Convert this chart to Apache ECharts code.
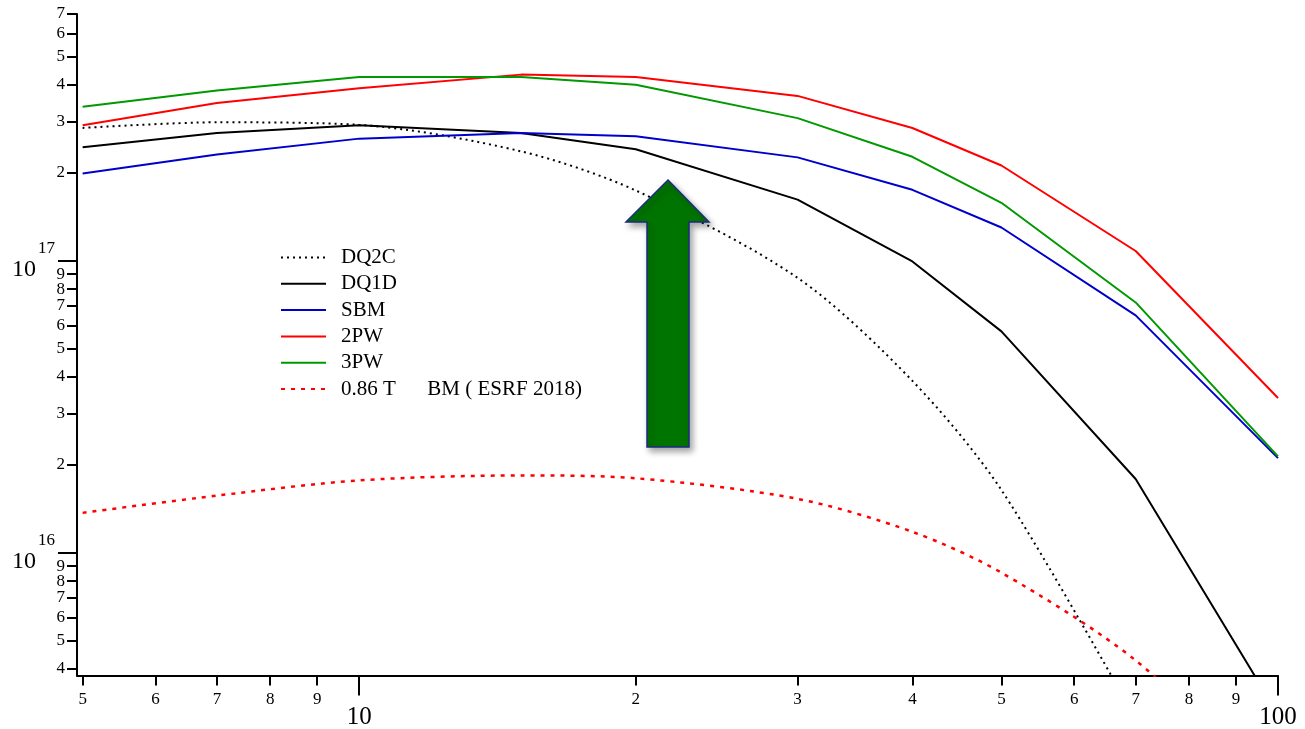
<!DOCTYPE html>
<html><head><meta charset="utf-8">
<script src="https://cdn.jsdelivr.net/npm/echarts@6/dist/echarts.min.js"></script>
<style>html,body{margin:0;padding:0;background:#fff}#c{width:1305px;height:729px}</style>
</head><body><div id="c"></div>
<script>
// ---- data (x: energy, log scale; y: flux, log scale) ----
const energies = [5, 7, 10, 15, 20, 30, 40, 50, 70, 100];
const dq2c  = [2.85e17, 2.98e17, 2.92e17, 2.37e17, 1.74e17, 8.74e16, 3.88e16, 1.64e16, 2.7e15];
const dq1d  = [2.45e17, 2.74e17, 2.91e17, 2.74e17, 2.41e17, 1.62e17, 9.95e16, 5.73e16, 1.79e16, 2.8e15];
const sbm   = [1.99e17, 2.31e17, 2.62e17, 2.74e17, 2.67e17, 2.26e17, 1.75e17, 1.30e17, 6.50e16, 2.11e16];
const pw2   = [2.91e17, 3.47e17, 3.90e17, 4.34e17, 4.26e17, 3.67e17, 2.85e17, 2.12e17, 1.08e17, 3.39e16];
const pw3   = [3.37e17, 3.83e17, 4.26e17, 4.26e17, 4.01e17, 3.08e17, 2.27e17, 1.58e17, 7.2e16, 2.14e16];
const bm086 = [1.37e16, 1.57e16, 1.77e16, 1.84e16, 1.80e16, 1.53e16, 1.18e16, 8.55e15, 4.28e15, 1.5e15];

const seriesNames = ['DQ2C', 'DQ1D', 'SBM', '2PW', '3PW', '0.86 T      BM ( ESRF 2018)'];

// tick label values
const yMinorVals = [4e15, 5e15, 6e15, 7e15, 8e15, 9e15, 2e16, 3e16, 4e16, 5e16, 6e16, 7e16, 8e16, 9e16, 2e17, 3e17, 4e17, 5e17, 6e17, 7e17];
const yDecadeVals = [1e16, 1e17];
const xMinorVals = [5, 6, 7, 8, 9, 20, 30, 40, 50, 60, 70, 80, 90];
const xDecadeVals = [10, 100];

const X_MIN = 4.93, X_MAX = 100, Y_MIN = 3.8e15, Y_MAX = 7e17;
const FONT = 'Liberation Serif';

function expOf(v) { return Math.floor(Math.log10(v) + 1e-9); }
function mantissa(v) { return String(Math.round(v / Math.pow(10, expOf(v)))); }
function pairs(ys) { return ys.map((y, i) => [energies[i], y]); }

const chart = echarts.init(document.getElementById('c'), null, {renderer: 'canvas'});

const common = {
  type: 'log', logBase: 10,
  splitLine: {show: false}, minorTick: {show: false}, minorSplitLine: {show: false}
};
const tickStyle = {color: '#000', width: 2};

const option = {
  animation: false,
  backgroundColor: '#fff',
  grid: {left: 77, right: 27, top: 14, bottom: 53.5, outerBoundsMode: 'none', containLabel: false},
  xAxis: [
    Object.assign({}, common, {
      position: 'bottom', min: X_MIN, max: X_MAX,
      axisLine: {show: true, onZero: false, lineStyle: {color: '#000', width: 2}},
      axisTick: {show: true, inside: false, length: 10, customValues: xMinorVals, lineStyle: tickStyle},
      axisLabel: {show: true, margin: 16, customValues: xMinorVals, formatter: mantissa,
        fontFamily: FONT, fontSize: 17, color: '#000'}
    }),
    Object.assign({}, common, {
      position: 'bottom', min: X_MIN, max: X_MAX,
      axisLine: {show: false, onZero: false},
      axisTick: {show: true, inside: false, length: 20, customValues: xDecadeVals, lineStyle: tickStyle},
      axisLabel: {show: true, margin: 29, customValues: xDecadeVals, formatter: v => String(Math.round(v)),
        fontFamily: FONT, fontSize: 25, color: '#000'}
    })
  ],
  yAxis: [
    Object.assign({}, common, {
      position: 'left', min: Y_MIN, max: Y_MAX,
      axisLine: {show: true, onZero: false, lineStyle: {color: '#000', width: 2}},
      axisTick: {show: true, inside: false, length: 10, customValues: yMinorVals, lineStyle: tickStyle},
      axisLabel: {show: true, margin: 12, customValues: yMinorVals, formatter: mantissa,
        fontFamily: FONT, fontSize: 17, color: '#000'}
    }),
    Object.assign({}, common, {
      position: 'left', min: Y_MIN, max: Y_MAX,
      axisLine: {show: false, onZero: false},
      axisTick: {show: true, inside: false, length: 19, customValues: yDecadeVals, lineStyle: tickStyle},
      axisLabel: {show: true, margin: 22, customValues: yDecadeVals,
        formatter: v => '{s|' + expOf(v) + '}\n{b|10}',
        rich: {
          s: {fontFamily: FONT, fontSize: 17, lineHeight: 18, color: '#000'},
          b: {fontFamily: FONT, fontSize: 24, lineHeight: 25, color: '#000', padding: [0, 19, 0, 0]}
        },
        color: '#000'}
    })
  ],
  legend: {
    orient: 'vertical', left: 275, top: 242,
    itemWidth: 45, itemHeight: 20, itemGap: 5.3,
    itemStyle: {opacity: 0, borderWidth: 0},
    textStyle: {fontFamily: FONT, fontSize: 21, color: '#000', padding: [0, 0, 0, 10]},
    data: seriesNames
  },
  series: [
    {name: seriesNames[0], type: 'line', data: pairs(dq2c), symbol: 'none', smooth: 0.3,
     lineStyle: {color: '#000', width: 2, type: [2, 4]}, itemStyle: {color: '#000'}},
    {name: seriesNames[1], type: 'line', data: pairs(dq1d), symbol: 'none',
     lineStyle: {color: '#000', width: 2}, itemStyle: {color: '#000'}},
    {name: seriesNames[2], type: 'line', data: pairs(sbm), symbol: 'none',
     lineStyle: {color: '#0000cc', width: 2}, itemStyle: {color: '#0000cc'}},
    {name: seriesNames[3], type: 'line', data: pairs(pw2), symbol: 'none',
     lineStyle: {color: '#ff0000', width: 2}, itemStyle: {color: '#ff0000'}},
    {name: seriesNames[4], type: 'line', data: pairs(pw3), symbol: 'none',
     lineStyle: {color: '#009900', width: 2}, itemStyle: {color: '#009900'}},
    {name: seriesNames[5], type: 'line', data: pairs(bm086), symbol: 'none', smooth: 0.3,
     lineStyle: {color: '#ff0000', width: 2.5, type: [4, 6]}, itemStyle: {color: '#ff0000'}}
  ],
  graphic: [{
    type: 'polygon', z: 100,
    shape: {points: [[668, 180], [709, 222], [689, 222], [689, 447], [647, 447], [647, 222], [626, 222]]},
    style: {fill: '#007400', stroke: '#1b2a80', lineWidth: 1.5,
      shadowBlur: 6, shadowOffsetX: 3, shadowOffsetY: 4, shadowColor: 'rgba(0,0,0,0.35)'}
  }]
};
chart.setOption(option);
</script>
</body></html>
